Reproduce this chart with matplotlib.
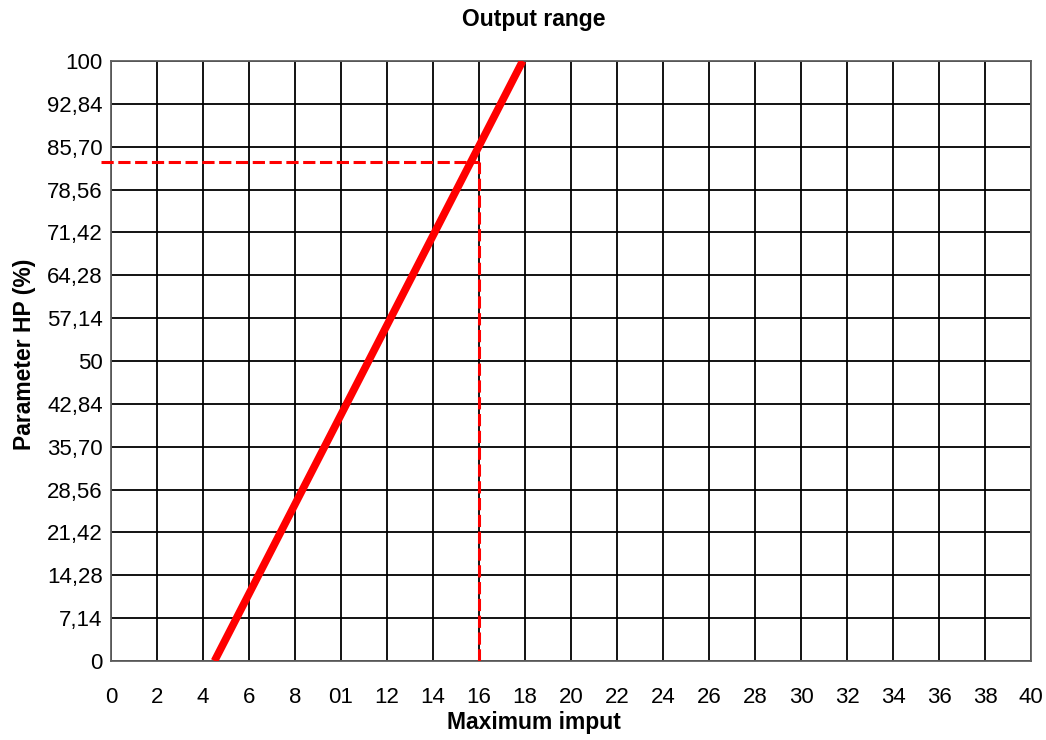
import matplotlib
matplotlib.use("Agg")
import matplotlib.pyplot as plt
import numpy as np

x_ticks = list(range(0, 41, 2))
x_tick_labels = ["0", "2", "4", "6", "8", "01", "12", "14", "16", "18", "20", "22", "24",
                 "26", "28", "30", "32", "34", "36", "38", "40"]
y_ticks = [0, 7.14, 14.28, 21.42, 28.56, 35.70, 42.84, 50, 57.14, 64.28, 71.42, 78.56, 85.70, 92.84, 100]
y_tick_labels = ["0", "7,14", "14,28", "21,42", "28,56", "35,70", "42,84", "50", "57,14",
                 "64,28", "71,42", "78,56", "85,70", "92,84", "100"]

line_x = [4.5, 17.9]
line_y = [0, 100]

marker_x = 16
marker_y = 83.1
marker_x_start = -0.45

plt.rcParams['font.family'] = ['Liberation Sans', 'DejaVu Sans']

fig = plt.figure(figsize=(10.46, 7.4), dpi=100)
ax = fig.add_axes([0.1061, 0.1068, 0.8796, 0.8108])

ax.set_xlim(0, 40)
ax.set_ylim(0, 100)
ax.set_xticks(x_ticks)
ax.set_xticklabels(x_tick_labels)
ax.set_yticks(y_ticks)
ax.set_yticklabels(y_tick_labels)
ax.tick_params(length=0, labelsize=16)
ax.tick_params(axis='x', pad=19)
ax.tick_params(axis='y', pad=6)
ax.grid(True, color='black', linewidth=1.3)
ax.set_axisbelow(True)
for s in ax.spines.values():
    s.set_color('#606060')
    s.set_linewidth(1.3)

ax.plot([marker_x_start, marker_x], [marker_y, marker_y], color='red', lw=2.2,
        dashes=(4, 1.5), clip_on=False, zorder=3)
ax.plot([marker_x, marker_x], [0, marker_y], color='red', lw=2.2,
        dashes=(4, 1.5), zorder=3)
ax.plot(line_x, line_y, color='red', lw=5.5, solid_capstyle='butt', zorder=4)

fig.text(0.5105, 0.973, "Output range", fontsize=16.5, fontweight='bold', ha='center', va='center')
fig.text(0.5105, 0.0243, "Maximum imput", fontsize=16.5, fontweight='bold', ha='center', va='center')
fig.text(0.023, 0.5216, "Parameter HP (%)", fontsize=16.5, fontweight='bold', ha='center',
         va='center', rotation=90)

fig.savefig("out.png", dpi=100)
